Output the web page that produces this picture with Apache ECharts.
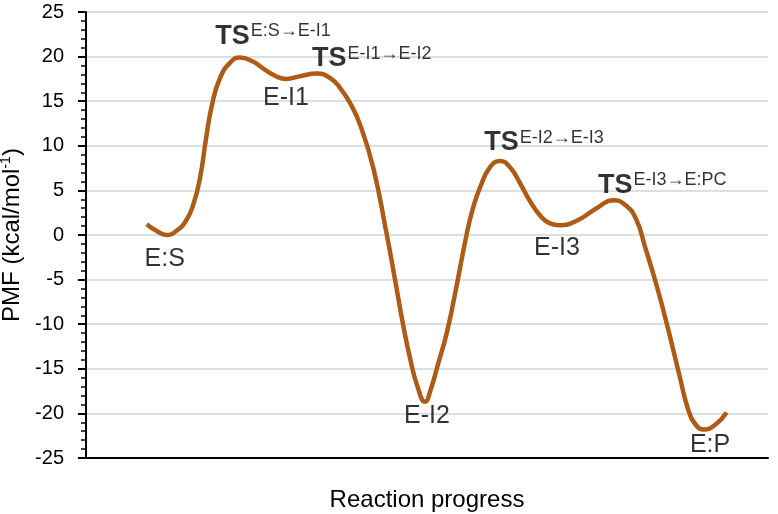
<!DOCTYPE html>
<html>
<head>
<meta charset="utf-8">
<script src="https://cdn.jsdelivr.net/npm/echarts@6/dist/echarts.min.js"></script>
<style>
html,body{margin:0;padding:0;background:#fff;}
#chart{width:778px;height:514px;}
</style>
</head>
<body>
<div id="chart"></div>
<script>
// Reaction coordinate (0-100, arbitrary progress units) and PMF values (kcal/mol)
const progress = [8.90, 10.26, 11.83, 13.34, 14.66, 15.69, 16.72, 17.60, 18.48, 19.65, 21.11, 22.58, 24.34, 26.10, 27.86, 29.33, 31.38, 33.83, 35.78, 37.24, 38.71, 40.18, 42.13, 44.09, 45.31, 46.48, 47.51, 48.53, 49.71, 50.59, 51.61, 52.89, 54.11, 55.82, 56.74, 57.77, 59.24, 60.70, 62.17, 63.64, 65.10, 66.57, 68.04, 69.50, 71.95, 74.88, 77.32, 79.03, 80.65, 81.96, 83.72, 85.34, 87.10, 88.27, 89.44, 90.62, 92.23, 93.94];
const pmf      = [1.2, 0.5, 0.0, 0.5, 1.6, 3.3, 6.4, 10.8, 14.6, 17.6, 19.3, 19.9, 19.5, 18.6, 17.8, 17.5, 17.8, 18.1, 17.6, 16.5, 14.8, 12.4, 7.5, 0.1, -5.0, -10.0, -13.8, -16.8, -18.7, -17.2, -14.5, -11.0, -6.6, 0.1, 3.0, 5.3, 7.6, 8.3, 7.6, 5.8, 3.8, 2.2, 1.3, 1.1, 1.6, 3.0, 3.9, 3.4, 1.8, -1.3, -5.8, -10.5, -16.0, -19.5, -21.3, -21.8, -21.3, -19.9];

// Names of the stationary points, in order along the path
const stateNames = ['E:S', 'TS|E:S→E-I1', 'E-I1', 'TS|E-I1→E-I2', 'E-I2', 'TS|E-I2→E-I3', 'E-I3', 'TS|E-I3→E:PC', 'E:P'];

// Axis ticks
const yTicks = [-25, -20, -15, -10, -5, 0, 5, 10, 15, 20, 25];

// label offsets (style only)
const labelOffsets = [[-2, 24], [33, -21], [0, 19], [55, -15], [2, 14], [44, -18], [-3, 23], [49, -15], [6, 16]];

const curve = progress.map((x, i) => [x, pmf[i]]);

// find local extrema along the curve
const extrema = [];
for (let i = 1; i < pmf.length - 1; i++) {
  if ((pmf[i] < pmf[i-1] && pmf[i] <= pmf[i+1]) || (pmf[i] > pmf[i-1] && pmf[i] >= pmf[i+1])) extrema.push(i);
}

const labelData = extrema.slice(0, stateNames.length).map((idx, k) => {
  const nm = stateNames[k];
  let fmt;
  if (nm.startsWith('TS|')) fmt = '{ts|TS}{sup|' + nm.slice(3) + '}';
  else fmt = '{n|' + nm + '}';
  return {
    value: [progress[idx], pmf[idx]],
    label: { show: true, position: 'inside', offset: labelOffsets[k], formatter: fmt }
  };
});

const chart = echarts.init(document.getElementById('chart'), null, {renderer: 'canvas'});
const font = '"Liberation Sans", Arial, sans-serif';
chart.setOption({
  backgroundColor: '#ffffff',
  animation: false,
  grid: { left: 86, right: 10, top: 12, bottom: 56, outerBoundsMode: 'none', containLabel: false },
  xAxis: {
    type: 'value', min: 0, max: 100,
    name: 'Reaction progress', nameLocation: 'middle', nameGap: 30,
    nameTextStyle: { fontFamily: font, fontSize: 24, color: '#000' },
    axisLine: { show: true, onZero: false, lineStyle: { color: '#000', width: 2 } },
    axisTick: { show: false }, axisLabel: { show: false }, splitLine: { show: false }
  },
  yAxis: {
    type: 'value', min: yTicks[0], max: yTicks[yTicks.length-1], interval: 5,
    name: '{a|PMF (kcal/mol}{s|-1}{a|)}', nameLocation: 'middle', nameGap: 52, nameRotate: 90,
    nameTextStyle: {
      rich: {
        a: { fontFamily: font, fontSize: 24, color: '#000', lineHeight: 26 },
        s: { fontFamily: font, fontSize: 14, color: '#000', verticalAlign: 'top', lineHeight: 16 }
      }
    },
    axisLine: { show: true, lineStyle: { color: '#000', width: 2 } },
    axisTick: { show: true, inside: false, length: 8, lineStyle: { color: '#000', width: 2 } },
    minorTick: { show: true, splitNumber: 5, length: 5, lineStyle: { color: '#000', width: 1.5 } },
    axisLabel: { fontFamily: font, fontSize: 20, color: '#000', margin: 22 },
    splitLine: { show: true, lineStyle: { color: '#c9d7dc', width: 1.5 } }
  },
  series: [
    {
      type: 'line', data: curve, smooth: 0.5, showSymbol: false, silent: true,
      lineStyle: { color: '#ac5c16', width: 4.5 }
    },
    {
      type: 'scatter', data: labelData, symbolSize: 1, silent: true,
      itemStyle: { color: 'rgba(0,0,0,0)' },
      label: {
        fontFamily: font, color: '#000',
        rich: {
          n: { fontFamily: font, fontSize: 25, color: '#000', lineHeight: 28 },
          ts: { fontFamily: font, fontSize: 27, fontWeight: 'bold', color: '#000', lineHeight: 30 },
          sup: { fontFamily: font, fontSize: 18, color: '#000', verticalAlign: 'top', lineHeight: 22, padding: [1, 0, 0, 1] }
        }
      }
    }
  ]
});
</script>
</body>
</html>
